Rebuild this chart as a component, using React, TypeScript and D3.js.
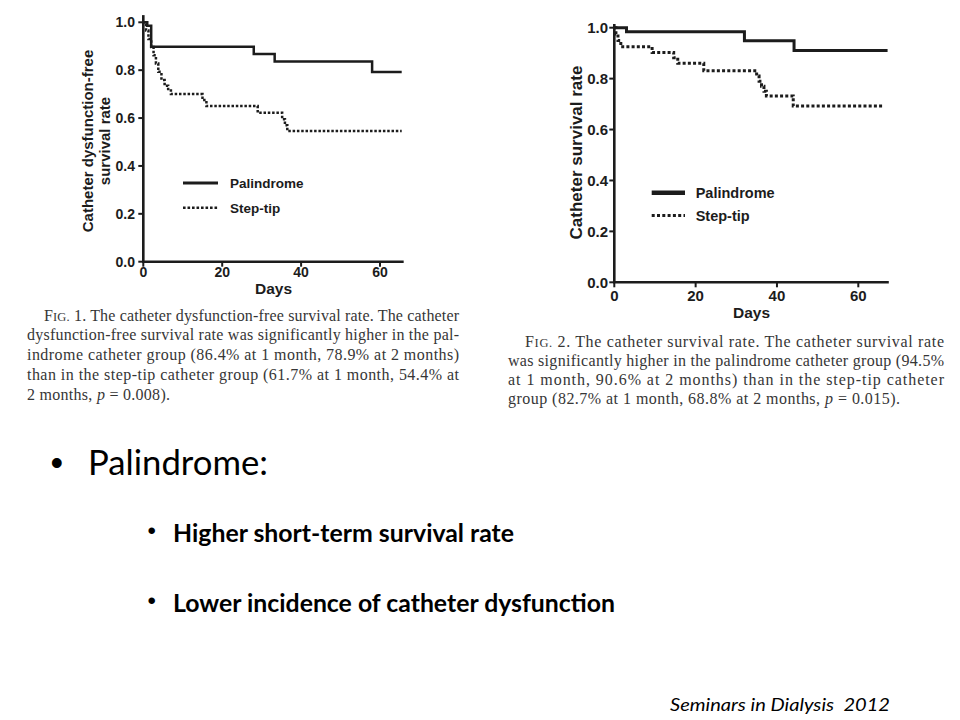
import React from 'react';
import * as d3 from 'd3';

// ---------- data ----------
const yTicks = [0, 0.2, 0.4, 0.6, 0.8, 1.0];
const xTicks = [0, 20, 40, 60];
const seriesNames = ['Palindrome', 'Step-tip'];

// Fig 1: catheter dysfunction-free survival (days, rate)
const fig1Palindrome: [number, number][] = [
  [0, 1], [1, 0.986], [2, 0.898], [28, 0.868], [33.3, 0.836], [58, 0.792], [65.5, 0.792],
];
const fig1StepTip: [number, number][] = [
  [0, 1], [0.7, 0.966], [1.3, 0.93], [2, 0.897], [2.6, 0.862], [3.2, 0.828], [3.8, 0.793],
  [4.6, 0.759], [5.4, 0.735], [6.3, 0.715], [7, 0.7], [15, 0.675], [16, 0.65], [29, 0.622],
  [35.2, 0.595], [35.9, 0.57], [36.5, 0.546], [65.5, 0.546],
];

// Fig 2: catheter survival
const fig2Palindrome: [number, number][] = [
  [0, 1], [3, 0.984], [32, 0.949], [44.2, 0.91], [67.2, 0.91],
];
const fig2StepTip: [number, number][] = [
  [0, 1], [0.4, 0.975], [0.9, 0.95], [1.6, 0.925], [9.3, 0.903], [14.6, 0.882], [15.6, 0.86],
  [22, 0.831], [35, 0.81], [35.6, 0.79], [36.2, 0.77], [36.8, 0.75], [37.4, 0.732], [44, 0.692],
  [66.1, 0.692],
];

const fig1Caption = [
  'FIG. 1. The catheter dysfunction-free survival rate. The catheter',
  'dysfunction-free survival rate was significantly higher in the pal-',
  'indrome catheter group (86.4% at 1 month, 78.9% at 2 months)',
  'than in the step-tip catheter group (61.7% at 1 month, 54.4% at',
  '2 months, p = 0.008).',
];
const fig2Caption = [
  'FIG. 2. The catheter survival rate. The catheter survival rate',
  'was significantly higher in the palindrome catheter group (94.5%',
  'at 1 month, 90.6% at 2 months) than in the step-tip catheter',
  'group (82.7% at 1 month, 68.8% at 2 months, p = 0.015).',
];

const mainBullet = 'Palindrome:';
const subBullets = ['Higher short-term survival rate', 'Lower incidence of catheter dysfunction'];
const footer = 'Seminars in Dialysis  2012';

// ---------- helpers ----------
const INK = '#1c1c1c';
const CAP = '#363636';
const SANS = '"Liberation Sans", Arial, sans-serif';
const SERIF = '"Liberation Serif", "Times New Roman", serif';
const BODY = 'Lato, "Open Sans", sans-serif';

type ChartProps = {
  x0: number; x1: number; xMax: number; axisEnd: number;
  y0: number; y1: number; axisTop: number;
  pal: [number, number][]; step: [number, number][];
  tickFont: number; tickLabelX: number; xLabelBase: number;
  daysBase: number; titleFont: number;
  titleLines: string[]; titleX: number[]; titleCenterY: number;
  legX0: number; legX1: number; legTextX: number; legY: number[]; legFont: number;
  lineW: number; legSolidW: number; dash: string; legDash: string;
};

function KMChart(p: ChartProps) {
  const x = d3.scaleLinear().domain([0, p.xMax]).range([p.x0, p.x1]);
  const y = d3.scaleLinear().domain([0, 1]).range([p.y0, p.y1]);
  const line = d3.line<[number, number]>().x(d => x(d[0])).y(d => y(d[1])).curve(d3.curveStepAfter);
  const ox = x(0), oy = y(0);
  return (
    <g>
      <path d={line(p.pal) || ''} fill="none" stroke={INK} strokeWidth={p.lineW} />
      <path d={line(p.step) || ''} fill="none" stroke={INK} strokeWidth={p.lineW} strokeDasharray={p.dash} />
      {/* axes */}
      <line x1={ox} x2={ox} y1={oy} y2={y(p.axisTop)} stroke={INK} strokeWidth={2.6} />
      <line x1={ox - 1.3} x2={x(p.axisEnd)} y1={oy} y2={oy} stroke={INK} strokeWidth={2.6} />
      {yTicks.map(t => (
        <g key={'y' + t}>
          <line x1={ox - 5} x2={ox} y1={y(t)} y2={y(t)} stroke={INK} strokeWidth={2} />
          <text x={p.tickLabelX} y={y(t) + p.tickFont * 0.36} textAnchor="end" fontFamily={SANS}
            fontWeight={700} fontSize={p.tickFont} fill={INK}>{t.toFixed(1)}</text>
        </g>
      ))}
      {xTicks.map(t => (
        <g key={'x' + t}>
          <line x1={x(t)} x2={x(t)} y1={oy} y2={oy + 5} stroke={INK} strokeWidth={2} />
          <text x={x(t)} y={p.xLabelBase} textAnchor="middle" fontFamily={SANS}
            fontWeight={700} fontSize={p.tickFont} fill={INK}>{t}</text>
        </g>
      ))}
      <text x={(p.x0 + x(p.axisEnd)) / 2} y={p.daysBase} textAnchor="middle" fontFamily={SANS}
        fontWeight={700} fontSize={15.5} fill={INK}>Days</text>
      {p.titleLines.map((s, i) => (
        <text key={s} transform={`translate(${p.titleX[i]},${p.titleCenterY}) rotate(-90)`}
          textAnchor="middle" fontFamily={SANS} fontWeight={700} fontSize={p.titleFont} fill={INK}>{s}</text>
      ))}
      {/* legend */}
      <line x1={p.legX0} x2={p.legX1} y1={p.legY[0]} y2={p.legY[0]} stroke={INK} strokeWidth={p.legSolidW} />
      <line x1={p.legX0} x2={p.legX1} y1={p.legY[1]} y2={p.legY[1]} stroke={INK} strokeWidth={p.lineW}
        strokeDasharray={p.legDash} />
      {seriesNames.map((n, i) => (
        <text key={n} x={p.legTextX} y={p.legY[i] + p.legFont * 0.36} fontFamily={SANS} fontWeight={700}
          fontSize={p.legFont} fill={INK}>{n}</text>
      ))}
    </g>
  );
}

function captionLine(s: string, fs: number) {
  const parts: React.ReactNode[] = [];
  let rest = s;
  if (rest.startsWith('FIG.')) {
    parts.push(<tspan key="f">F</tspan>);
    parts.push(<tspan key="ig" fontSize={fs * 0.78}>IG.</tspan>);
    rest = rest.slice(4);
  }
  const pi = rest.indexOf(' p = ');
  if (pi >= 0) {
    parts.push(<tspan key="a">{rest.slice(0, pi + 1)}</tspan>);
    parts.push(<tspan key="p" fontStyle="italic">p</tspan>);
    parts.push(<tspan key="b">{rest.slice(pi + 2)}</tspan>);
  } else {
    parts.push(<tspan key="a">{rest}</tspan>);
  }
  return parts;
}

function Caption({ lines, x0, x1, indent, base, lead, lastW }:
  { lines: string[]; x0: number; x1: number; indent: number; base: number; lead: number; lastW: number }) {
  const fs = 16;
  return (
    <g fontFamily={SERIF} fontSize={fs} fill={CAP}>
      {lines.map((s, i) => {
        const sx = i === 0 ? x0 + indent : x0;
        const w = i === lines.length - 1 ? lastW : x1 - sx;
        return (
          <text key={i} x={sx} y={base + i * lead} textLength={w} lengthAdjust="spacing"
            style={{ whiteSpace: 'pre' }}>{captionLine(s, fs)}</text>
        );
      })}
    </g>
  );
}

export default function App() {
  return (
    <svg width={960} height={720} style={{ position: 'absolute', left: 0, top: 0 }}>
      <rect width={960} height={720} fill="#ffffff" />
      <KMChart
        x0={143.3} x1={380} xMax={60} axisEnd={66}
        y0={261.7} y1={22.3} axisTop={1.03}
        pal={fig1Palindrome} step={fig1StepTip}
        tickFont={14} tickLabelX={135} xLabelBase={277}
        daysBase={293.5} titleFont={15}
        titleLines={['Catheter dysfunction-free', 'survival rate']} titleX={[92.5, 109.5]} titleCenterY={141}
        legX0={183} legX1={218} legTextX={230} legY={[183, 207.7]} legFont={13.5}
        lineW={2.5} legSolidW={2.8} dash="2.5,1.8" legDash="2.6,1.9"
      />
      <KMChart
        x0={614.3} x1={858.3} xMax={60} axisEnd={67.5}
        y0={282.3} y1={27.7} axisTop={1.015}
        pal={fig2Palindrome} step={fig2StepTip}
        tickFont={15} tickLabelX={608} xLabelBase={300.5}
        daysBase={318.3} titleFont={17}
        titleLines={['Catheter survival rate']} titleX={[582]} titleCenterY={152.5}
        legX0={651.7} legX1={685} legTextX={695.7} legY={[192.7, 215.5]} legFont={14.5}
        lineW={3} legSolidW={4.5} dash="3,2.2" legDash="3,2.3"
      />
      <Caption lines={fig1Caption} x0={27} x1={459} indent={17} base={320.5} lead={19.75} lastW={143} />
      <Caption lines={fig2Caption} x0={508} x1={944} indent={17} base={346.5} lead={19} lastW={392} />

      {/* slide bullets */}
      <text x={56.7} y={475} textAnchor="middle" fontFamily={SANS} fontSize={36} fill="#000">•</text>
      <text x={88} y={475} fontFamily={BODY} fontSize={35} fill="#000" textLength={180}
        lengthAdjust="spacingAndGlyphs">{mainBullet}</text>
      {subBullets.map((s, i) => {
        const base = [541.5, 611.5][i];
        const ends = [514, 615];
        return (
          <g key={s}>
            <text x={151.7} y={base - 3} textAnchor="middle" fontFamily={SANS} fontSize={24} fill="#000">•</text>
            <text x={173} y={base} fontFamily={BODY} fontWeight={700} fontSize={25} fill="#000"
              textLength={ends[i] - 173} lengthAdjust="spacingAndGlyphs">{s}</text>
          </g>
        );
      })}
      <text x={670} y={710.7} fontFamily={BODY} fontStyle="italic" fontSize={17} fill="#000"
        textLength={220} lengthAdjust="spacingAndGlyphs" style={{ whiteSpace: 'pre' }}>{footer}</text>
    </svg>
  );
}
